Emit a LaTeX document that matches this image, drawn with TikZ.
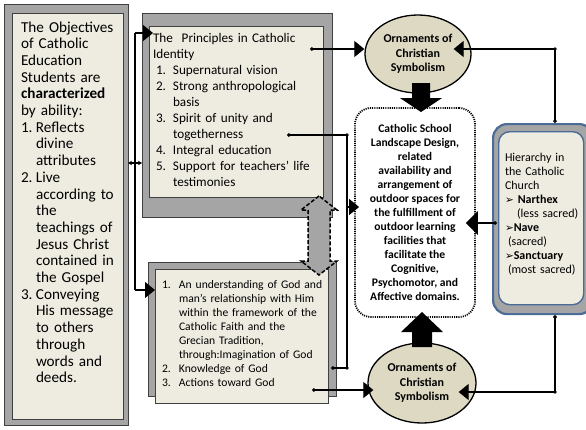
\documentclass[tikz,border=0pt]{standalone}
\usepackage{fontspec}
\setmainfont{Carlito}
\newfontfamily\dvfont{DejaVu Sans}
\usetikzlibrary{arrows.meta,shapes.geometric}
\definecolor{tanfill}{HTML}{EEECE1}
\definecolor{khaki}{HTML}{DDD9C3}
\definecolor{framegray}{HTML}{A5A5A5}
\definecolor{steel}{HTML}{4A6C96}
\newcommand\myli[3]{\par\let\\\newline\hangindent=#1\hangafter=1\noindent\hbox to #1{#2\hfil}\ignorespaces#3}
\newcommand\arr{{\dvfont\fontsize{10.5}{10}\selectfont ➢}}
\begin{document}
\begin{tikzpicture}[x=1pt,y=-1pt,
  frm/.style={draw=black!75,line width=0.9pt,anchor=north west,inner sep=0pt,outer sep=0pt},
  tx/.style={anchor=north west,inner sep=0pt,outer sep=0pt,text width=#1},
  conn/.style={draw=black,line width=1.1pt},
  bigtip/.style={-{Triangle[length=10pt,width=16pt]}},
  dottip/.style={{Circle[length=3.6pt]}-{Triangle[length=10pt,width=16pt]}},
  jdot/.style={circle,fill=black,inner sep=0pt,minimum size=3.6pt},
  orn/.style={ellipse,draw=black,line width=1.3pt,fill=khaki,inner sep=0pt,align=center,
    font={\bfseries\fontsize{12}{14.3}\selectfont}},
]
\clip (0,0) rectangle (586,429);
\fill[white] (0,0) rectangle (586,429);

% ---------- left box
\node[frm,fill=framegray,minimum width=124pt,minimum height=421pt] (leftout) at (4,4) {};
\node[frm,fill=tanfill,minimum width=111pt,minimum height=406pt] (leftin) at (12,13) {};
\node[tx=106pt,font={\fontsize{15.2}{16.7}\selectfont}] (lefttxt) at (21,21.5) {%
\parindent=0pt\parskip=0pt
The Objectives\\
of Catholic\\
Education\\
Students are\\
\textbf{characterized}\\
by ability:
\myli{15pt}{1.}{Reflects\\divine\\attributes}
\myli{15pt}{2.}{Live\\according to\\the\\teachings of\\Jesus Christ\\contained in\\the Gospel}
\myli{15pt}{3.}{Conveying\\His message\\to others\\through\\words and\\deeds.}\par};

% ---------- top middle box
\node[frm,fill=framegray,minimum width=190pt,minimum height=204pt] (topout) at (142,13) {};
\node[frm,fill=tanfill,minimum width=174pt,minimum height=171pt] (topin) at (149,26) {};
\node[tx=172pt,font={\fontsize{13.2}{16}\selectfont}] (toptxt) at (153,33) {%
\parindent=0pt\parskip=0pt
The\ \ Principles in Catholic\\
Identity
\myli{20pt}{\hspace*{3pt}1.}{Supernatural vision}
\myli{20pt}{\hspace*{3pt}2.}{Strong anthropological\\basis}
\myli{20pt}{\hspace*{3pt}3.}{Spirit of unity and\\togetherness}
\myli{20pt}{\hspace*{3pt}4.}{Integral education}
\myli{20pt}{\hspace*{3pt}5.}{Support for teachers' life\\testimonies}\par};

% ---------- lower middle box
\node[frm,fill=framegray,minimum width=188pt,minimum height=134pt] (lowback) at (148,262) {};
\node[frm,fill=tanfill,minimum width=173pt,minimum height=134pt] (lowfront) at (155,269) {};
\node[tx=175pt,font={\fontsize{11.6}{14}\selectfont}] (lowtxt) at (162,274.5) {%
\parindent=0pt\parskip=0pt
\myli{17pt}{1.}{An understanding of God and\\man's relationship with Him\\within the framework of the\\Catholic Faith and the\\Grecian Tradition,\\through:Imagination of God}
\myli{17pt}{2.}{Knowledge of God}
\myli{17pt}{3.}{Actions toward God}\par};

% dashed double arrow between the two boxes
\draw[fill=framegray,line width=1.5pt,dash pattern=on 4pt off 2pt]
  (319,196) -- (301,210) -- (308,210) -- (308,261) -- (301,261) -- (319,275)
  -- (337,261) -- (330,261) -- (330,210) -- (337,210) -- cycle;

% ---------- central dotted box
\node[draw=black,line width=1.8pt,dash pattern=on 1.1pt off 1.1pt,rounded corners=16pt,
  fill=white,minimum width=120pt,minimum height=209pt,inner sep=0pt,align=center,
  font={\bfseries\fontsize{11.6}{14}\selectfont}] (central) at (415,212.5) {%
Catholic School\\Landscape Design,\\related\\availability and\\arrangement of\\outdoor spaces for\\the fulfillment of\\outdoor learning\\facilities that\\facilitate the\\Cognitive,\\Psychomotor, and\\Affective domains.};

% ---------- ellipses
\node[orn,minimum width=106pt,minimum height=78pt] (ellT) at (418,54) {Ornaments of\\Christian\\Symbolism};
\node[orn,minimum width=108pt,minimum height=80pt] (ellB) at (422,383) {Ornaments of\\Christian\\Symbolism};

% block arrows
\fill[black] (412,83) -- (430,83) -- (430,98) -- (442,98) -- (421,112) -- (400,98) -- (412,98) -- cycle;
\fill[black] (412,347) -- (432,347) -- (432,332) -- (443,332) -- (422,312) -- (401,332) -- (412,332) -- cycle;

% ---------- hierarchy box
\node[draw=steel,line width=2.2pt,fill=framegray,rounded corners=14pt,anchor=north west,
  minimum width=100pt,minimum height=190pt,inner sep=0pt] (hout) at (492,123) {};
\node[draw=steel,line width=1.4pt,fill=tanfill,rounded corners=11pt,anchor=north west,
  minimum width=85pt,minimum height=173pt,inner sep=0pt] (hin) at (498,131) {};
\node[tx=80pt,font={\fontsize{12}{14}\selectfont}] (htxt) at (505,153.5) {%
\parindent=0pt\parskip=0pt
Hierarchy in\\
the Catholic\\
Church\\
\arr\ \textbf{Narthex}\\
\hspace*{12pt}(less sacred)\\
\arr\textbf{Nave}\\
\hspace*{3pt}(sacred)\\
\arr\textbf{Sanctuary}\\
\hspace*{3pt}(most sacred)};

% ---------- connectors
\coordinate (bt) at (135,33);
\coordinate (bb) at (135,290);
\coordinate (bm) at (135,163);
\draw[conn] (bt) -- (bb);
\draw[conn,bigtip,shorten >=-4pt] (bt) -- (bt -| topin.west);
\draw[conn,bigtip] (bb) -- (bb -| lowfront.west);
\draw[conn,{Stealth[length=4pt,width=4.5pt]}-{Stealth[length=4pt,width=4.5pt]}]
  (bm -| leftout.east) -- (bm -| topout.west);
\node[jdot,minimum size=2.6pt] at (bm) {};

% top box -> top ellipse
\coordinate (p1) at (310,49);
\draw[conn,dottip] (p1) -- (p1 -| ellT.west);

% togetherness -> knowledge, branch to central
\coordinate (p2) at (287,135);
\coordinate (c1) at (347,135);
\coordinate (c2) at (347,368);
\coordinate (p3) at (331,368);
\coordinate (j1) at (347,207);
\draw[conn,{Circle[length=3.6pt]}-{Circle[length=3.6pt]}] (p2) -- (c1) -- (c2) -- (p3);
\node[jdot] at (c1) {};
\node[jdot] at (c2) {};
\draw[conn,bigtip,shorten >=-5pt] (j1) -- (j1 -| central.west);

% lower box -> bottom ellipse
\coordinate (p4) at (312,390);
\draw[conn,dottip,shorten >=-6pt] (p4) -- (p4 -| ellB.west);

% hierarchy -> top ellipse
\coordinate (h1) at (hout.north -| 555,0);
\coordinate (h2) at (555,49);
\draw[conn,dottip] (h1) -- (h2) -- ([xshift=-18pt]h2 -| ellT.east);
\node[jdot] at (h2) {};

% hierarchy -> central
\coordinate (h3) at (497,223);
\draw[conn,{Circle[length=3.6pt]}-{Triangle[length=12pt,width=24pt]},shorten >=-10pt] (h3) -- (h3 -| central.east);

% hierarchy -> bottom ellipse
\coordinate (h4) at (hout.south -| 555,0);
\coordinate (h5) at (555,392);
\draw[conn,dottip] (h4) -- (h5) -- ([xshift=-18pt]h5 -| ellB.east);
\node[jdot] at (h5) {};
\end{tikzpicture}
\end{document}
